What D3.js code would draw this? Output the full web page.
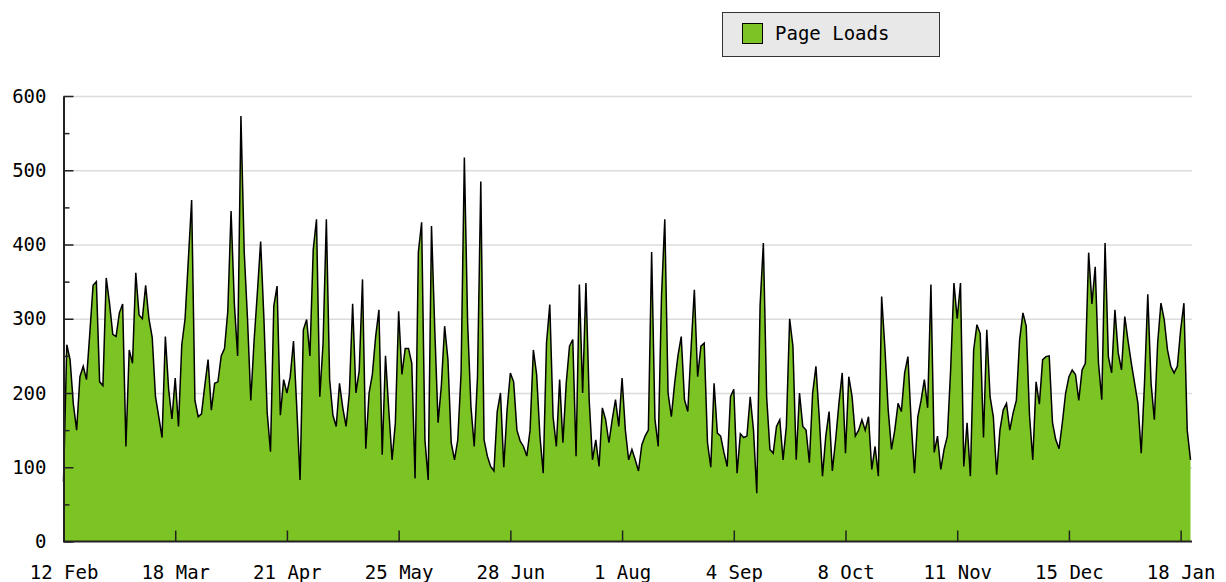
<!DOCTYPE html>
<html>
<head>
<meta charset="utf-8">
<script src="https://cdnjs.cloudflare.com/ajax/libs/d3/7.8.5/d3.min.js"></script>
<style>
body { margin: 0; background: #fff; }
text { font-family: "DejaVu Sans Mono", monospace; font-size: 19px; fill: #000; }
</style>
</head>
<body>
<svg id="chart" width="1226" height="582"></svg>
<script>
// daily page loads, starting 12 Feb
var startDay = "2009-02-12";
var pageLoads = [
  80,265,245,185,150,222,236,218,280,345,350,215,210,355,321,279,276,308,320,128,
  258,240,362,305,300,345,300,275,195,168,140,276,205,165,220,155,265,300,380,460,
  190,168,172,210,245,177,213,215,250,260,310,445,320,250,573,390,300,190,270,335,
  404,300,173,121,317,344,170,218,200,222,270,180,83,285,299,250,393,434,195,267,
  434,218,170,155,213,180,155,200,320,200,230,353,125,200,225,276,312,117,250,177,
  110,160,310,225,260,260,240,85,390,430,137,83,425,285,160,210,290,245,133,110,
  137,227,517,294,182,128,222,485,137,115,101,95,175,200,100,177,227,215,150,135,
  128,115,150,258,225,142,92,267,319,168,128,218,133,213,263,272,115,346,200,348,
  190,110,137,101,180,164,133,164,191,155,220,150,110,124,110,95,130,142,150,390,
  165,128,330,434,200,168,213,250,276,191,175,260,339,222,263,267,133,100,213,146,
  142,120,101,195,205,92,145,140,142,195,150,65,317,402,195,124,119,155,164,110,
  155,300,263,110,200,155,150,106,200,236,168,88,142,175,95,137,186,227,119,222,
  195,142,150,164,150,168,97,128,88,330,260,177,124,150,186,175,227,249,160,92,
  168,190,218,180,346,120,142,97,124,142,231,348,300,348,101,160,88,258,292,280,
  140,285,195,168,90,150,177,186,150,173,190,272,308,290,170,110,215,185,245,249,
  250,160,137,125,160,200,222,231,225,190,231,240,389,320,370,240,191,402,249,227,
  312,254,231,303,270,240,213,186,119,213,333,213,164,267,321,299,258,236,227,236,
  285,321,150,110
];
var tickDates = ["2009-02-12","2009-03-18","2009-04-21","2009-05-25","2009-06-28",
  "2009-08-01","2009-09-04","2009-10-08","2009-11-11","2009-12-15","2010-01-18"];
var yTicks = [0, 100, 200, 300, 400, 500, 600];
var yMinorTicks = [50, 150, 250, 350, 450, 550];
var seriesName = "Page Loads";

var green = "#7cc423";
var svg = d3.select("#chart");

var parse = d3.utcParse("%Y-%m-%d");
var t0 = parse(startDay);
var data = pageLoads.map(function(v, i){
  return { date: d3.utcDay.offset(t0, i), v: v };
});

var plotLeft = 63.5, plotRight = 1190.5, plotTop = 96, plotBottom = 541.5;

var x = d3.scaleUtc()
  .domain([t0, data[data.length - 1].date])
  .range([plotLeft, plotRight]);
var y = d3.scaleLinear().domain([0, 600]).range([plotBottom, plotTop]);

// grid lines
svg.append("g")
  .attr("transform", "translate(" + plotLeft + ",0)")
  .call(d3.axisLeft(y).tickValues(yTicks.slice(1)).tickSize(-(1192 - plotLeft)).tickFormat(""))
  .call(function(g){
    g.select(".domain").remove();
    g.selectAll("line").attr("stroke", "#dcdcdc").attr("stroke-width", 1.5);
  });

// area + line
svg.append("path")
  .datum(data)
  .attr("fill", green)
  .attr("d", d3.area()
    .x(function(d){ return x(d.date); })
    .y0(plotBottom)
    .y1(function(d){ return y(d.v); }));

svg.append("path")
  .datum(data)
  .attr("fill", "none")
  .attr("stroke", "#000")
  .attr("stroke-width", 1.5)
  .attr("stroke-linejoin", "miter")
  .attr("d", d3.line()
    .x(function(d){ return x(d.date); })
    .y(function(d){ return y(d.v); }));

// y axis
svg.append("g")
  .attr("transform", "translate(" + plotLeft + ",0)")
  .call(d3.axisLeft(y).tickValues(yMinorTicks).tickSize(-6).tickSizeOuter(0).tickFormat(""))
  .call(function(g){
    g.select(".domain").remove();
    g.selectAll("line").attr("stroke", "#222").attr("stroke-width", 1.5);
  });

svg.append("g")
  .attr("transform", "translate(" + plotLeft + ",0)")
  .call(d3.axisLeft(y).tickValues(yTicks).tickSize(-10).tickSizeOuter(0).tickPadding(17))
  .call(function(g){
    g.select(".domain").attr("stroke", "#222").attr("stroke-width", 2);
    g.selectAll("line").attr("stroke", "#222").attr("stroke-width", 1.5);
    g.selectAll("text").attr("font-family", null).attr("font-size", null).attr("fill", "#000");
  });

// x axis
svg.append("g")
  .attr("transform", "translate(0," + plotBottom + ")")
  .call(d3.axisBottom(x)
    .tickValues(tickDates.map(parse))
    .tickFormat(d3.utcFormat("%-d %b"))
    .tickSize(-11).tickSizeOuter(0).tickPadding(24))
  .call(function(g){
    g.select(".domain").attr("d", "M" + plotLeft + ",0H1192").attr("stroke", "#222").attr("stroke-width", 2);
    g.selectAll("line").attr("stroke", "#222").attr("stroke-width", 1.5);
    g.selectAll("text").attr("font-family", null).attr("font-size", null).attr("fill", "#000");
  });

// legend
var legend = svg.append("g");
legend.append("rect")
  .attr("x", 722.5).attr("y", 12.5).attr("width", 217).attr("height", 44)
  .attr("fill", "#e8e8e8").attr("stroke", "#333");
legend.append("rect")
  .attr("x", 742.5).attr("y", 23.5).attr("width", 20).attr("height", 20)
  .attr("fill", green).attr("stroke", "#000");
legend.append("text")
  .attr("x", 775).attr("y", 40)
  .text(seriesName);
</script>
</body>
</html>
